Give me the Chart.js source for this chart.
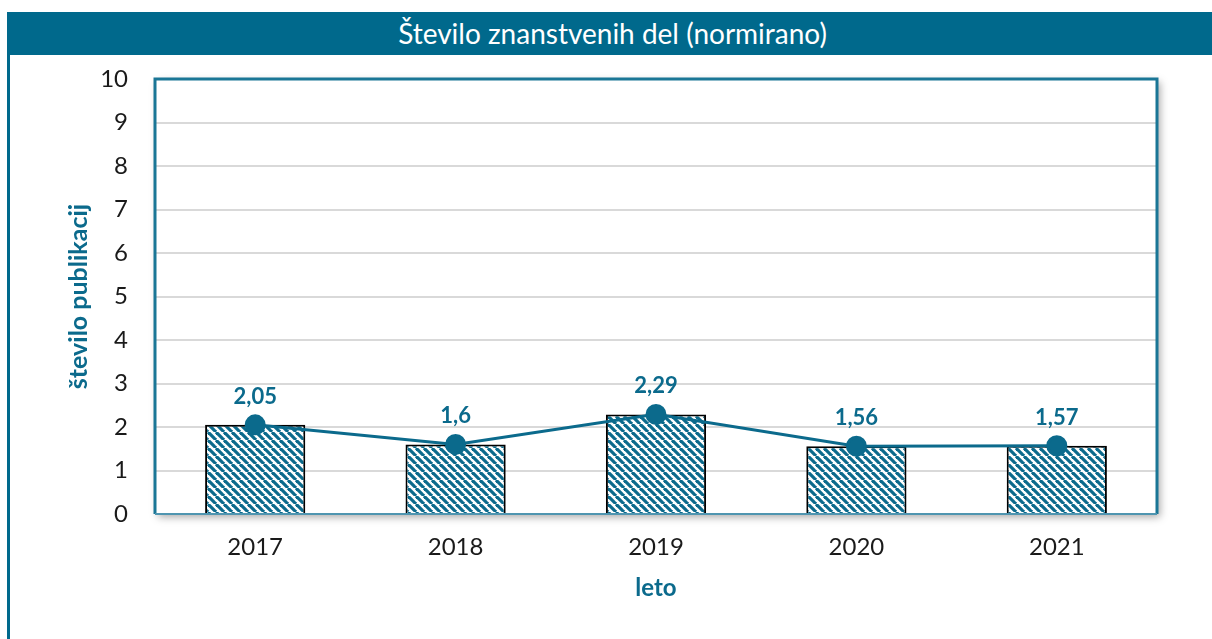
<!DOCTYPE html>
<html>
<head>
<meta charset="utf-8">
<script src="https://cdn.jsdelivr.net/npm/chart.js@4/dist/chart.umd.min.js"></script>
<style>
  html, body { margin: 0; padding: 0; background: #fff; }
  #wrap { position: relative; width: 1212px; height: 639px; overflow: hidden; font-family: Lato, "Open Sans", sans-serif; }
  #titlebar { position: absolute; left: 7px; top: 12px; right: 0; height: 43px; background: #00698c;
    color: #fff; font-size: 28px; line-height: 43px; text-align: center; padding-left: 6px; box-sizing: border-box; }
  #leftline { position: absolute; left: 7px; top: 12px; width: 3px; height: 627px; background: #00698c; }
  canvas { position: absolute; left: 0; top: 0; }
</style>
</head>
<body>
<div id="wrap">
  <div id="titlebar">Število znanstvenih del (normirano)</div>
  <div id="leftline"></div>
  <canvas id="c" width="1212" height="639"></canvas>
</div>
<script>
const categories = ["2017", "2018", "2019", "2020", "2021"];
const values = [2.05, 1.6, 2.29, 1.56, 1.57];
const valueLabels = ["2,05", "1,6", "2,29", "1,56", "1,57"];
const yTicks = [0, 1, 2, 3, 4, 5, 6, 7, 8, 9, 10];
const yTitle = "število publikacij";
const xTitle = "leto";

const TEAL = "#0b6a8c";
const FONT = "Lato, 'Open Sans', sans-serif";

function makePattern() {
  const s = 8;
  const c = document.createElement("canvas");
  c.width = s; c.height = s;
  const g = c.getContext("2d");
  g.fillStyle = "#ffffff";
  g.fillRect(0, 0, s, s);
  g.strokeStyle = TEAL;
  g.lineWidth = 3.2;
  for (let o = -s; o <= s; o += s) {
    g.beginPath();
    g.moveTo(o, 0);
    g.lineTo(o + s, s);
    g.stroke();
  }
  return g.createPattern(c, "repeat");
}

const framePlugin = {
  id: "frame",
  beforeDraw(chart) {
    const {ctx, chartArea: a} = chart;
    ctx.save();
    ctx.shadowColor = "rgba(0,0,0,0.35)";
    ctx.shadowBlur = 8;
    ctx.shadowOffsetX = 3;
    ctx.shadowOffsetY = 3;
    ctx.fillStyle = "#fff";
    ctx.fillRect(a.left, a.top, a.right - a.left, a.bottom - a.top);
    ctx.restore();
  },
  beforeDatasetsDraw(chart) {
    const {ctx, chartArea: a} = chart;
    ctx.save();
    ctx.strokeStyle = "#1a7696";
    ctx.lineWidth = 3;
    ctx.beginPath();
    ctx.moveTo(a.left, a.bottom);
    ctx.lineTo(a.left, a.top);
    ctx.lineTo(a.right, a.top);
    ctx.lineTo(a.right, a.bottom);
    ctx.stroke();
    ctx.strokeStyle = "#4f95b0";
    ctx.lineWidth = 2;
    ctx.beginPath();
    ctx.moveTo(a.left, a.bottom);
    ctx.lineTo(a.right, a.bottom);
    ctx.stroke();
    ctx.restore();
  }
};

const labelPlugin = {
  id: "vlabels",
  afterDatasetsDraw(chart) {
    const {ctx} = chart;
    const meta = chart.getDatasetMeta(1);
    ctx.save();
    ctx.fillStyle = TEAL;
    ctx.font = "bold 22px " + FONT;
    ctx.textAlign = "center";
    ctx.textBaseline = "middle";
    meta.data.forEach((pt, i) => {
      ctx.fillText(valueLabels[i], pt.x, pt.y - 28);
    });
    ctx.restore();
  }
};

new Chart(document.getElementById("c"), {
  data: {
    labels: categories,
    datasets: [
      {
        type: "line",
        data: values,
        borderColor: TEAL,
        backgroundColor: TEAL,
        borderWidth: 3,
        pointRadius: 9,
        pointHoverRadius: 9,
        pointBackgroundColor: TEAL,
        pointBorderColor: TEAL,
        tension: 0,
        order: 0
      },
      {
        type: "bar",
        data: values,
        backgroundColor: makePattern(),
        borderColor: "#000",
        borderWidth: 2,
        borderSkipped: "bottom",
        categoryPercentage: 0.5,
        barPercentage: 1.0,
        order: 1
      }
    ]
  },
  options: {
    responsive: false,
    animation: false,
    devicePixelRatio: 1,
    layout: { padding: { top: 79, right: 55, bottom: 30, left: 0 } },
    plugins: { legend: { display: false }, tooltip: { enabled: false }, title: { display: false } },
    scales: {
      x: {
        grid: { display: false, drawTicks: false },
        border: { display: false },
        ticks: { color: "#1a1a1a", font: { family: FONT, size: 24 }, padding: 19 },
        title: { display: true, text: xTitle, color: TEAL, font: { family: FONT, size: 24, weight: "bold" }, padding: { top: 0, bottom: 6 } },
        afterFit(s) { s.height = 95; }
      },
      y: {
        min: 0, max: 10,
        afterBuildTicks(s) { s.ticks = yTicks.map(v => ({ value: v })); },
        grid: { color: "#d9d9d9", lineWidth: 2, drawTicks: false },
        border: { display: false },
        ticks: { color: "#1a1a1a", font: { family: FONT, size: 24 }, padding: 27 },
        title: { display: true, text: yTitle, color: TEAL, font: { family: FONT, size: 25, weight: "bold" }, padding: { top: 64, bottom: 0 } },
        afterFit(s) { s.width = 155; }
      }
    }
  },
  plugins: [framePlugin, labelPlugin]
});
</script>
</body>
</html>
